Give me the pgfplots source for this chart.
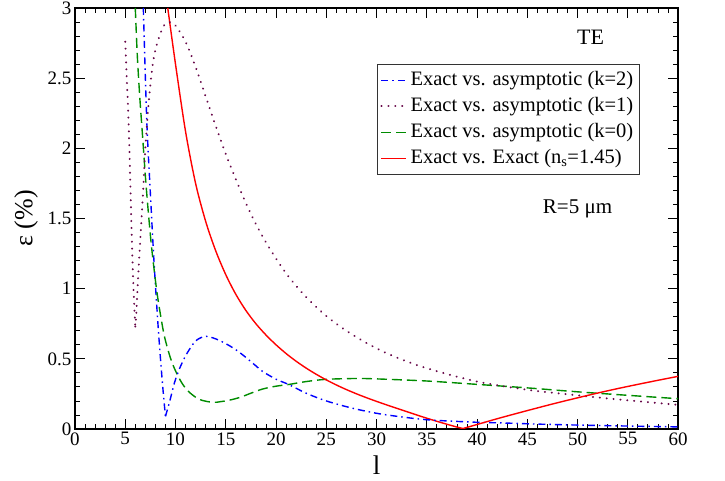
\documentclass[border=0pt]{standalone}
\usepackage{fontspec}
\setmainfont{Liberation Serif}
\usepackage{pgfplots}
\pgfplotsset{compat=1.18}

\definecolor{gmaroon}{RGB}{103,7,72}
\definecolor{ggreen}{RGB}{0,140,0}

\begin{document}
\begin{tikzpicture}
\path[use as bounding box] (-75pt,-52pt) rectangle (650pt,429pt);
\begin{axis}[
    scale only axis,
    width=603pt, height=421pt,
    xmin=0, xmax=60, ymin=0, ymax=3,
    xtick={0,5,...,60},
    ytick={0,0.5,1,1.5,2,2.5,3},
    minor x tick num=4, minor y tick num=4,
    tick align=inside,
    major tick length=10pt, minor tick length=5pt,
    tick style={black, line width=0.8pt},
    axis line style={line width=1.2pt},
    /pgf/number format/assume math mode=true,
    ticklabel style={font=\fontsize{19}{19}\selectfont},
    xlabel={l},
    ylabel={ε (\%)},
    xlabel style={at={(axis description cs:0.5,0)}, anchor=center, yshift=-36pt, font=\fontsize{27}{27}\selectfont},
    ylabel style={at={(axis description cs:-0.081,0.5)}, anchor=center, font=\fontsize{26}{26}\selectfont},
    legend style={at={(rel axis cs:0.5008,0.867)}, anchor=north west,
        font=\fontsize{20.5}{24}\selectfont, draw=black!80, line width=0.9pt,
        inner sep=3pt, row sep=0pt, cells={anchor=west},
        nodes={text height=15pt, text depth=5pt, inner sep=3pt}},
    legend image code/.code={\draw[#1] (0pt,0pt) -- (25pt,0pt);},
]
% k=2
\addplot[blue, line width=1.4pt, dash pattern=on 7pt off 4pt on 1.5pt off 4pt, smooth] coordinates {
  (6.8,3.0) (6.97,2.58) (7.14,2.2) (7.3,1.95) (7.47,1.72) (7.8,1.27) (8.07,0.95)
  (8.33,0.67) (8.55,0.46) (8.78,0.26) (9.0,0.09)
};
\addlegendentry{Exact vs. asymptotic (k=2)}
% k=1
\addplot[gmaroon, line width=2.1pt, line cap=round, dash pattern=on 0.1pt off 6.8pt, smooth] coordinates {
  (5.0,2.76) (5.15,2.5) (5.3,2.25) (5.43,1.95) (5.59,1.52) (5.72,1.2) (5.85,0.95) (6.0,0.73)
};
\addlegendentry{Exact vs. asymptotic (k=1)}
% k=0
\addplot[ggreen, line width=1.4pt, dash pattern=on 10pt off 5pt, smooth] coordinates {
  (6.0,3.0) (6.2,2.66) (6.45,2.36) (6.68,2.13) (7.08,1.73) (7.57,1.33) (8.07,1.02)
  (8.4,0.86) (8.9,0.66) (9.57,0.49) (10.23,0.38) (10.8,0.31) (11.4,0.26) (12.4,0.21)
  (13.7,0.19) (14.5,0.195) (15.33,0.205) (16.4,0.225) (17.5,0.255) (18.67,0.285)
  (20,0.305) (21.33,0.318) (23,0.338) (25,0.354) (28,0.36) (30,0.357) (35,0.342)
  (40,0.318) (45,0.293) (50,0.265) (55,0.24) (60,0.216)
};
\addlegendentry{Exact vs. asymptotic (k=0)}
% exact vs exact
\addplot[red, line width=1.4pt, smooth] coordinates {
  (9.23,3.0) (10,2.6) (11,2.12) (12,1.75) (13,1.48) (14,1.27) (15,1.1) (16,0.96)
  (17,0.845) (18,0.75) (19,0.67) (20,0.6) (21,0.538) (22,0.483) (23,0.434) (24,0.39)
  (25,0.35) (26,0.314) (27,0.281) (28,0.251) (29,0.223) (30,0.197) (31,0.172)
  (32,0.148) (33,0.124) (34,0.1) (35,0.077) (36,0.055) (37,0.034) (38,0.014) (38.6,0.003)
};
\addlegendentry{Exact vs. Exact (n\textsubscript{s}=1.45)}
% second branches after the cusps
\addplot[forget plot, blue, line width=1.4pt, dash pattern=on 7pt off 4pt on 1.5pt off 4pt, smooth] coordinates {
  (9.0,0.09) (9.4,0.19) (9.9,0.33) (10.4,0.43) (11.07,0.53) (11.9,0.62) (12.5,0.65)
  (13.07,0.66) (13.7,0.65) (14.4,0.63) (15.33,0.595) (16.2,0.555) (17,0.51) (18,0.45)
  (18.67,0.41) (20,0.355) (21.33,0.315) (23,0.255) (25,0.2) (27.5,0.15) (30,0.112)
  (32.5,0.086) (35,0.066) (38,0.054) (40,0.048) (43,0.042) (46,0.035) (50,0.028)
  (55,0.021) (60,0.015)
};
\addplot[forget plot, gmaroon, line width=2.1pt, line cap=round, dash pattern=on 0.1pt off 6.8pt, smooth] coordinates {
  (6.0,0.73) (6.1,0.82) (6.25,1.04) (6.48,1.33) (6.75,1.66) (7.0,2.0) (7.3,2.3)
  (7.6,2.52) (7.9,2.67) (8.4,2.8) (8.9,2.88) (9.4,2.9) (10,2.875) (11,2.76) (12,2.58)
  (13,2.37) (14,2.16) (15,1.96) (16,1.78) (17,1.61) (18,1.46) (19,1.33) (20,1.215)
  (21,1.11) (22,1.02) (23,0.94) (24,0.87) (25,0.805) (26,0.75) (27,0.7) (28,0.655)
  (29,0.613) (30,0.575) (31,0.54) (32,0.51) (33,0.482) (34,0.456) (35,0.433)
  (36,0.412) (37,0.392) (38,0.373) (39,0.355) (40,0.338) (42,0.312) (44,0.29)
  (46,0.27) (48,0.255) (50,0.24) (52,0.225) (54,0.211) (56,0.198) (58,0.185) (60,0.172)
};
\addplot[forget plot, red, line width=1.4pt, smooth] coordinates {
  (38.6,0.003) (40,0.032) (42,0.073) (44,0.112) (46,0.15) (48,0.187) (50,0.222)
  (52,0.256) (54,0.288) (56,0.318) (58,0.347) (60,0.375)
};
\node[font=\fontsize{22}{22}\selectfont] at (axis cs:51.3,2.79) {TE};
\node[font=\fontsize{21}{21}\selectfont] at (axis cs:50,1.57) {R=5 μm};
\end{axis}
\end{tikzpicture}
\end{document}
